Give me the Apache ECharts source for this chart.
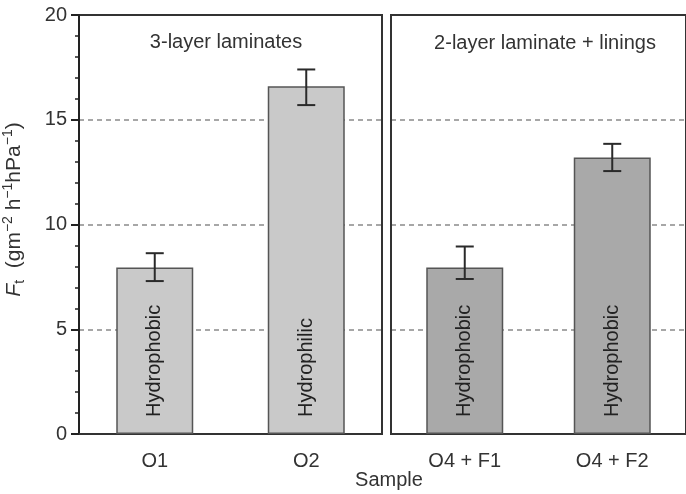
<!DOCTYPE html>
<html>
<head>
<meta charset="utf-8">
<script src="https://cdn.jsdelivr.net/npm/echarts@6/dist/echarts.min.js"></script>
<style>html,body{margin:0;padding:0;background:#fff}#c{width:686px;height:494px}</style>
</head>
<body>
<div id="c"></div>
<script>
// ---- data ----
const categoriesLeft = ['O1', 'O2'];
const categoriesRight = ['O4 + F1', 'O4 + F2'];
const valuesLeft = [7.95, 16.6];
const valuesRight = [7.95, 13.2];
const errUpperLeft = [0.68, 0.8];
const errLowerLeft = [0.65, 0.9];
const errUpperRight = [1.0, 0.65];
const errLowerRight = [0.55, 0.65];
const barTextLeft = ['Hydrophobic', 'Hydrophilic'];
const barTextRight = ['Hydrophobic', 'Hydrophobic'];
const panelTitles = ['3-layer laminates', '2-layer laminate + linings'];
const yTicks = [0, 5, 10, 15, 20];

const FONT = '"Liberation Sans", Arial, Helvetica, sans-serif';
const TXT = '#333';

function errData(vals, up, lo) {
  return vals.map((v, i) => [i, v + up[i], v - lo[i]]);
}
function renderErr(params, api) {
  const x = api.value(0);
  const pHi = api.coord([x, api.value(1)]);
  const pLo = api.coord([x, api.value(2)]);
  const w = 9;
  const st = { stroke: '#2a2a2a', lineWidth: 2 };
  return {
    type: 'group',
    children: [
      { type: 'line', shape: { x1: pHi[0], y1: pHi[1], x2: pLo[0], y2: pLo[1] }, style: st },
      { type: 'line', shape: { x1: pHi[0] - w, y1: pHi[1], x2: pHi[0] + w, y2: pHi[1] }, style: st },
      { type: 'line', shape: { x1: pLo[0] - w, y1: pLo[1], x2: pLo[0] + w, y2: pLo[1] }, style: st }
    ]
  };
}
function barLabel(texts) {
  return {
    show: true,
    position: 'insideBottom',
    rotate: 90,
    align: 'left',
    verticalAlign: 'middle',
    distance: 17,
    fontFamily: FONT,
    fontSize: 20,
    color: '#222',
    formatter: p => texts[p.dataIndex]
  };
}

const chart = echarts.init(document.getElementById('c'));
const yCommon = {
  type: 'value', min: yTicks[0], max: yTicks[yTicks.length - 1], interval: 5,
  splitLine: { show: true, showMinLine: false, showMaxLine: false,
    lineStyle: { color: '#8a8a8a', type: [5, 4], width: 1.5 } }
};
chart.setOption({
  animation: false,
  backgroundColor: '#fff',
  title: [
    { text: panelTitles[0], left: 221, top: 27, textAlign: 'center',
      textStyle: { fontFamily: FONT, fontSize: 20, fontWeight: 'normal', color: TXT } },
    { text: panelTitles[1], left: 540, top: 28, textAlign: 'center',
      textStyle: { fontFamily: FONT, fontSize: 20, fontWeight: 'normal', color: TXT } },
    { text: 'Sample', left: 389, top: 470, textAlign: 'center', padding: 0,
      textStyle: { fontFamily: FONT, fontSize: 20, fontWeight: 'normal', color: TXT } }
  ],
  grid: [
    { left: 79, top: 15, width: 303, height: 419, show: true, borderColor: '#333', borderWidth: 2 },
    { left: 391, top: 15, width: 302, height: 419, show: true, borderColor: '#333', borderWidth: 2 }
  ],
  xAxis: [
    { type: 'category', gridIndex: 0, data: categoriesLeft,
      axisLine: { lineStyle: { color: '#333', width: 2 } },
      axisTick: { alignWithLabel: true, length: 6, lineStyle: { color: '#333', width: 2 } },
      axisLabel: { margin: 17, fontFamily: FONT, fontSize: 20, color: TXT } },
    { type: 'category', gridIndex: 1, data: categoriesRight,
      axisLine: { lineStyle: { color: '#333', width: 2 } },
      axisTick: { alignWithLabel: true, length: 6, lineStyle: { color: '#333', width: 2 } },
      axisLabel: { margin: 17, fontFamily: FONT, fontSize: 20, color: TXT } }
  ],
  yAxis: [
    Object.assign({}, yCommon, {
      gridIndex: 0,
      name: '{it|F}{sub|t}{n|  (gm}{sup|−2}{n| h}{sup|−1}{n|hPa}{sup|−1}{n|)}',
      nameLocation: 'middle', nameGap: 52,
      nameTextStyle: {
        padding: [0, 0, 0, 30],
        rich: {
          it: { fontFamily: FONT, fontSize: 21, fontStyle: 'italic', color: TXT, lineHeight: 26, verticalAlign: 'middle' },
          sub: { fontFamily: FONT, fontSize: 14, color: TXT, lineHeight: 26, verticalAlign: 'bottom' },
          sup: { fontFamily: FONT, fontSize: 14, color: TXT, lineHeight: 26, verticalAlign: 'top' },
          n: { fontFamily: FONT, fontSize: 21, color: TXT, lineHeight: 26, verticalAlign: 'middle' }
        }
      },
      axisLine: { show: true, lineStyle: { color: '#222', width: 2 } },
      axisTick: { show: true, length: 8, lineStyle: { color: '#222', width: 2 } },
      minorTick: { show: true, splitNumber: 5, length: 4, lineStyle: { color: '#222', width: 1.5 } },
      axisLabel: { margin: 12, fontFamily: FONT, fontSize: 20, color: TXT }
    }),
    Object.assign({}, yCommon, {
      gridIndex: 1,
      axisLine: { show: true, lineStyle: { color: '#333', width: 2 } },
      axisTick: { show: false },
      axisLabel: { show: false }
    })
  ],
  series: [
    { type: 'bar', xAxisIndex: 0, yAxisIndex: 0, data: valuesLeft, barWidth: 77,
      itemStyle: { color: '#c9c9c9', borderColor: '#555', borderWidth: 1.5 },
      label: barLabel(barTextLeft), z: 3 },
    { type: 'bar', xAxisIndex: 1, yAxisIndex: 1, data: valuesRight, barWidth: 77,
      itemStyle: { color: '#a9a9a9', borderColor: '#555', borderWidth: 1.5 },
      label: barLabel(barTextRight), z: 3 },
    { type: 'custom', xAxisIndex: 0, yAxisIndex: 0, renderItem: renderErr,
      data: errData(valuesLeft, errUpperLeft, errLowerLeft), z: 5 },
    { type: 'custom', xAxisIndex: 1, yAxisIndex: 1, renderItem: renderErr,
      data: errData(valuesRight, errUpperRight, errLowerRight), z: 5 }
  ]
});
</script>
</body>
</html>
